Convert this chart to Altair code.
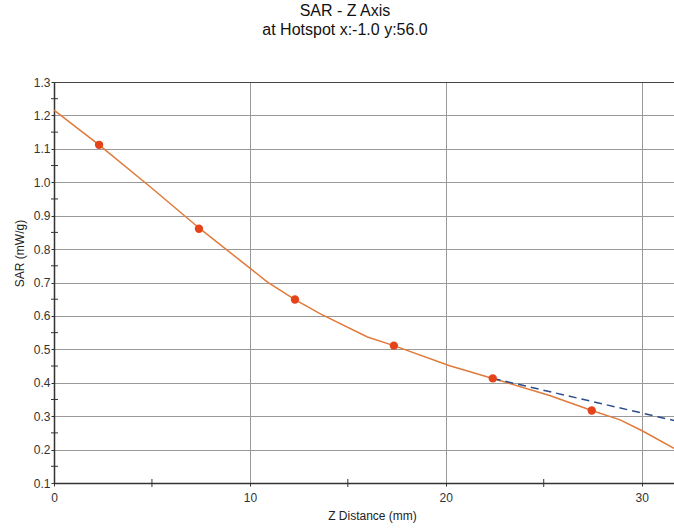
import altair as alt
import pandas as pd

# Measured curve (Z distance in mm, SAR in mW/g)
line_z = [0, 2.3, 5.0, 7.45, 10.0, 10.9, 12.3, 13.6, 16.0, 17.35, 20.2, 22.4, 25.3, 27.45, 28.9, 30.0, 31.65]
line_sar = [1.216, 1.112, 0.982, 0.861, 0.743, 0.701, 0.649, 0.606, 0.537, 0.511, 0.451, 0.413, 0.362, 0.317, 0.289, 0.257, 0.204]

# Measurement points
pt_z = [2.3, 7.4, 12.3, 17.35, 22.4, 27.45]
pt_sar = [1.112, 0.861, 0.649, 0.511, 0.413, 0.317]

# Extrapolation (dashed)
ext_z = [22.4, 31.65]
ext_sar = [0.413, 0.287]

# Axis ticks
x_major = [0, 10, 20, 30]
x_minor = [5, 15, 25]
y_major = [0.1, 0.2, 0.3, 0.4, 0.5, 0.6, 0.7, 0.8, 0.9, 1.0, 1.1, 1.2, 1.3]
y_minor = [0.15, 0.25, 0.35, 0.45, 0.55, 0.65, 0.75, 0.85, 0.95, 1.05, 1.15, 1.25]

X_DOMAIN = [0, 31.65]
Y_DOMAIN = [0.1, 1.3]
FONT = "Liberation Sans"

line_df = pd.DataFrame({"z": line_z, "sar": line_sar})
pt_df = pd.DataFrame({"z": pt_z, "sar": pt_sar})
ext_df = pd.DataFrame({"z": ext_z, "sar": ext_sar})
xmin_df = pd.DataFrame({"z": x_minor})
ymin_df = pd.DataFrame({"sar": y_minor})

xscale = alt.Scale(domain=X_DOMAIN, nice=False, zero=False)
yscale = alt.Scale(domain=Y_DOMAIN, nice=False, zero=False)

xaxis = alt.Axis(
    title="Z Distance (mm)", values=x_major, format="d", tickCount=50,
    grid=True, gridColor="#999999", gridWidth=1,
    domainColor="#333333", domainWidth=1.5,
    tickColor="#333333", tickSize=3, tickWidth=1,
    labelFont=FONT, labelFontSize=12, labelColor="#333333", labelPadding=6,
    labelOverlap=False, labelFlush=False,
    titleFont=FONT, titleFontSize=12, titleFontWeight="normal", titleColor="#222222",
    titleX=318, titleY=36, titleBaseline="alphabetic", titleAlign="center",
)
yaxis = alt.Axis(
    title="SAR (mW/g)", values=y_major, format=".1f", tickCount=50,
    grid=True, gridWidth=1,
    gridColor=alt.condition("datum.value > 1.29", alt.value("#444444"), alt.value("#999999")),
    domainColor="#333333", domainWidth=1.5,
    tickColor="#333333", tickSize=3, tickWidth=1,
    labelFont=FONT, labelFontSize=12, labelColor="#333333", labelPadding=1,
    labelOverlap=False, labelFlush=False,
    titleFont=FONT, titleFontSize=12, titleFontWeight="normal", titleColor="#222222",
    titleAngle=270, titleX=-35, titleY=171, titleAlign="center", titleBaseline="middle",
)

base_line = alt.Chart(line_df).mark_line(color="#e07a3a", strokeWidth=1.5).encode(
    x=alt.X("z:Q", scale=xscale, axis=xaxis),
    y=alt.Y("sar:Q", scale=yscale, axis=yaxis),
)

ext_line = alt.Chart(ext_df).mark_line(color="#2b4c8c", strokeWidth=1.5, strokeDash=[8, 5]).encode(
    x=alt.X("z:Q", scale=xscale),
    y=alt.Y("sar:Q", scale=yscale),
)

points = alt.Chart(pt_df).mark_point(filled=True, color="#e5431a", size=70, opacity=1).encode(
    x=alt.X("z:Q", scale=xscale),
    y=alt.Y("sar:Q", scale=yscale),
)

xminor_ticks = alt.Chart(xmin_df).mark_rule(color="#333333", strokeWidth=1).encode(
    x=alt.X("z:Q", scale=xscale),
    y=alt.value(397),
    y2=alt.value(405),
)

yminor_ticks = alt.Chart(ymin_df).mark_rule(color="#333333", strokeWidth=1).encode(
    y=alt.Y("sar:Q", scale=yscale),
    x=alt.value(-3),
    x2=alt.value(4),
)

chart = alt.layer(base_line, ext_line, points, xminor_ticks, yminor_ticks).properties(
    width=620,
    height=401,
    autosize=alt.AutoSizeParams(type="none"),
    padding={"left": 54, "top": 82, "right": 0, "bottom": 46},
    title=alt.TitleParams(
        text=["SAR - Z Axis", "at Hotspot x:-1.0 y:56.0"],
        font=FONT, fontSize=16, fontWeight="normal", color="#111111",
        anchor="middle", dx=-19, offset=38, lineHeight=19,
    ),
).configure_view(stroke=None).configure(background="white")

chart.save("out.html", embed_options={"renderer": "svg", "actions": False})
